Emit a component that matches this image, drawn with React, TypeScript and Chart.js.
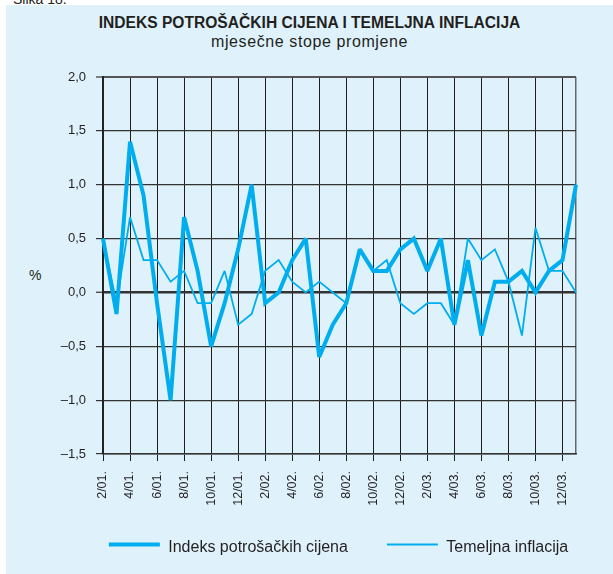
import React, { useEffect, useRef } from "react";
import { Chart, registerables } from "chart.js";

Chart.register(...registerables);

const monthLabels = [
  "2/01.", "3/01.", "4/01.", "5/01.", "6/01.", "7/01.", "8/01.", "9/01.", "10/01.", "11/01.", "12/01.",
  "1/02.", "2/02.", "3/02.", "4/02.", "5/02.", "6/02.", "7/02.", "8/02.", "9/02.", "10/02.", "11/02.", "12/02.",
  "1/03.", "2/03.", "3/03.", "4/03.", "5/03.", "6/03.", "7/03.", "8/03.", "9/03.", "10/03.", "11/03.", "12/03.",
  "1/04.",
];

const cpiValues = [
  0.5, -0.2, 1.4, 0.9, -0.1, -1.0, 0.7, 0.2, -0.5, -0.1, 0.4,
  1.0, -0.1, 0.0, 0.3, 0.5, -0.6, -0.3, -0.1, 0.4, 0.2, 0.2, 0.4,
  0.5, 0.2, 0.5, -0.3, 0.3, -0.4, 0.1, 0.1, 0.2, 0.0, 0.2, 0.3,
  1.0,
];

const coreValues = [
  0.5, -0.1, 0.7, 0.3, 0.3, 0.1, 0.2, -0.1, -0.1, 0.2, -0.3,
  -0.2, 0.2, 0.3, 0.1, 0.0, 0.1, 0.0, -0.1, 0.4, 0.2, 0.3, -0.1,
  -0.2, -0.1, -0.1, -0.3, 0.5, 0.3, 0.4, 0.1, -0.4, 0.6, 0.2, 0.2,
  0.0,
];

const seriesNames = ["Indeks potrošačkih cijena", "Temeljna inflacija"];
const yMin = -1.5;
const yMax = 2.0;
const yStep = 0.5;

const FIGURE_LABEL = "Slika 18.";
const TITLE = "INDEKS POTROŠAČKIH CIJENA I TEMELJNA INFLACIJA";
const SUBTITLE = "mjesečne stope promjene";
const Y_UNIT = "%";

const LINE = "#00aeef";
const TEXT = "#231f20";
const FONT = '"Liberation Sans", Arial, Helvetica, sans-serif';

const miterPlugin = {
  id: "miterLimit",
  beforeDatasetsDraw(chart: any) {
    chart.ctx.miterLimit = 2.2;
  },
};

const legendPlugin = {
  id: "bottomLegend",
  afterDraw(chart: any) {
    const { ctx, chartArea } = chart;
    ctx.save();
    ctx.font = `16px ${FONT}`;
    const sample = 51;
    const gap = 8.4;
    const spacing = 39;
    const items = chart.data.datasets.map((ds: any) => ({
      text: ds.label as string,
      color: ds.borderColor as string,
      lw: ds.borderWidth as number,
    }));
    const widths = items.map((it: any) => sample + gap + ctx.measureText(it.text).width);
    const total = widths.reduce((a: number, b: number) => a + b, 0) + spacing * (items.length - 1);
    let x = (chartArea.left + chartArea.right) / 2 - total / 2 - 1;
    const yLine = chartArea.bottom + 90.5;
    const yText = chartArea.bottom + 98;
    items.forEach((it: any, i: number) => {
      ctx.strokeStyle = it.color;
      ctx.lineWidth = it.lw;
      ctx.lineCap = "butt";
      ctx.beginPath();
      ctx.moveTo(x, yLine);
      ctx.lineTo(x + sample, yLine);
      ctx.stroke();
      ctx.fillStyle = TEXT;
      ctx.textAlign = "left";
      ctx.textBaseline = "alphabetic";
      ctx.fillText(it.text, x + sample + gap, yText);
      x += widths[i] + spacing;
    });
    ctx.restore();
  },
};

export default function App() {
  const ref = useRef<HTMLCanvasElement>(null);

  useEffect(() => {
    if (!ref.current) return;
    Chart.defaults.font.family = FONT;
    const last = monthLabels.length - 1;
    const chart = new Chart(ref.current, {
      type: "line",
      data: {
        labels: monthLabels,
        datasets: [
          {
            label: seriesNames[0],
            data: cpiValues,
            borderColor: LINE,
            backgroundColor: LINE,
            borderWidth: 4,
            pointRadius: 0,
            tension: 0,
            borderJoinStyle: "miter",
            fill: false,
          },
          {
            label: seriesNames[1],
            data: coreValues,
            borderColor: LINE,
            backgroundColor: LINE,
            borderWidth: 1.8,
            pointRadius: 0,
            tension: 0,
            borderJoinStyle: "miter",
            fill: false,
          },
        ],
      },
      plugins: [miterPlugin, legendPlugin],
      options: {
        responsive: false,
        animation: false,
        devicePixelRatio: 1,
        layout: { padding: { top: 77, right: 37, bottom: 60, left: 0 } },
        plugins: {
          tooltip: { enabled: false },
          title: { display: false },
          legend: { display: false },
        },
        scales: {
          x: {
            type: "category",
            offset: false,
            grid: {
              drawOnChartArea: true,
              drawTicks: true,
              tickLength: 7,
              color: (c: any) =>
                c.index === last ? "#666666" : c.index % 2 === 0 ? "#1e1e1e" : "rgba(0,0,0,0)",
              lineWidth: (c: any) => (c.index === last ? 1.5 : 1),
              tickColor: (c: any) => (c.index % 2 === 0 ? "#1e1e1e" : "rgba(0,0,0,0)"),
              tickWidth: 1,
            },
            border: { display: true, color: "#333333", width: 1.5 },
            ticks: {
              autoSkip: false,
              maxRotation: 90,
              minRotation: 90,
              padding: 10,
              color: TEXT,
              font: { size: 12.5, family: FONT },
              callback: (_v: any, i: number) => (i % 2 === 0 ? monthLabels[i] : ""),
            },
            afterFit: (s: any) => {
              s.height = 60;
            },
          },
          y: {
            min: yMin,
            max: yMax,
            grid: {
              drawTicks: true,
              tickLength: 7,
              color: (c: any) => (c.tick && c.tick.value === yMax ? "#555555" : "#333333"),
              lineWidth: (c: any) =>
                c.tick && c.tick.value === 0 ? 2.5 : c.tick && c.tick.value === yMax ? 2 : 1.2,
              tickColor: "#333333",
              tickWidth: 1.2,
            },
            border: { display: true, color: "#222222", width: 2 },
            ticks: {
              stepSize: yStep,
              padding: 10,
              color: TEXT,
              font: { size: 13, family: FONT },
              callback: (v: any) => {
                const n = Number(v);
                const s = Math.abs(n).toFixed(1).replace(".", ",");
                return n < 0 ? "\u2013" + s : s;
              },
            },
            afterFit: (s: any) => {
              s.width = 103;
            },
          },
        },
      },
    } as any);
    return () => chart.destroy();
  }, []);

  return (
    <div
      style={{
        position: "fixed",
        left: 0,
        top: 0,
        width: 613,
        height: 574,
        background: "#ffffff",
        overflow: "hidden",
        fontFamily: FONT,
        color: TEXT,
      }}
    >
      <div
        style={{
          position: "absolute",
          left: 6,
          top: 5,
          width: 607,
          height: 569,
          background: "#dff2fc",
        }}
      />
      <div
        style={{
          position: "absolute",
          left: 13,
          top: -8,
          fontSize: 14,
          lineHeight: "14px",
          whiteSpace: "nowrap",
        }}
      >
        {FIGURE_LABEL}
      </div>
      <div
        style={{
          position: "absolute",
          left: 6,
          width: 607,
          top: 15,
          textAlign: "center",
          fontSize: 15.6,
          lineHeight: "15.6px",
          fontWeight: "bold",
          whiteSpace: "nowrap",
        }}
      >
        {TITLE}
      </div>
      <div
        style={{
          position: "absolute",
          left: 6,
          width: 607,
          top: 34,
          textAlign: "center",
          fontSize: 16,
          lineHeight: "16px",
          letterSpacing: "0.6px",
          whiteSpace: "nowrap",
        }}
      >
        {SUBTITLE}
      </div>
      <div
        style={{
          position: "absolute",
          left: 29,
          top: 267,
          fontSize: 14,
          lineHeight: "16px",
        }}
      >
        {Y_UNIT}
      </div>
      <canvas
        ref={ref}
        width={613}
        height={574}
        style={{ position: "absolute", left: 0, top: 0 }}
      />
    </div>
  );
}
